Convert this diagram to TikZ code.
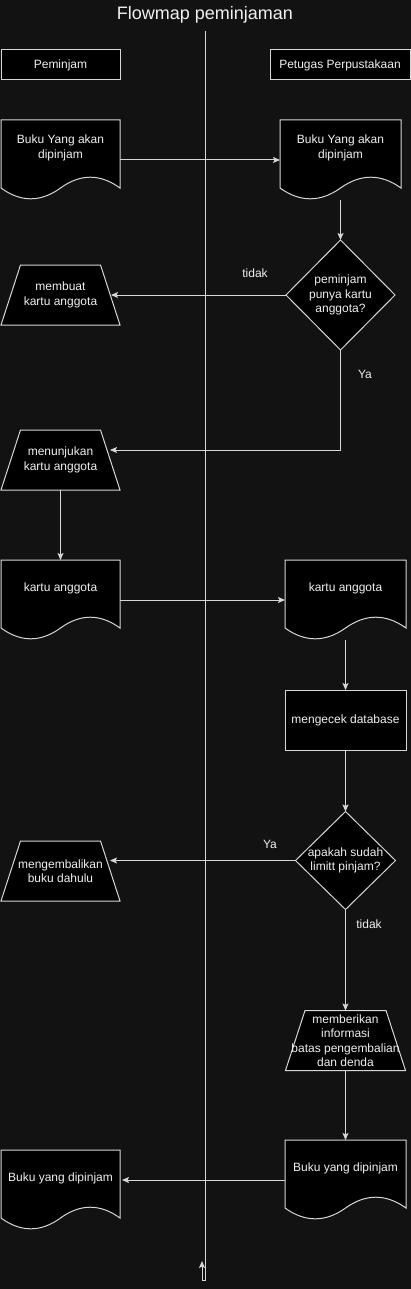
\documentclass[tikz,border=0pt]{standalone}
\usepackage{fontspec}
\setmainfont{Liberation Sans}
\usepackage{xcolor}
\usetikzlibrary{arrows.meta,positioning,shapes.geometric,calc}

\definecolor{latar}{RGB}{18,18,18}
\definecolor{garis}{RGB}{215,215,215}
\definecolor{tulisan}{RGB}{240,240,240}

\tikzset{
  teks/.style={text=tulisan, font=\fontsize{12}{14.4}\selectfont, align=center, inner sep=0pt},
  kotak/.style={teks, draw=garis, fill=black, line width=1pt, minimum height=30pt, outer sep=0pt},
  dok/.style={minimum height=80pt, inner sep=0pt, outer sep=0pt},
  trap/.style={minimum height=60pt, inner sep=0pt, outer sep=0pt},
  belah/.style={diamond, draw=garis, fill=black, line width=1pt, inner sep=0pt, outer sep=0pt},
  panah/.style={draw=garis, line width=1pt, -{Stealth[length=7pt,width=6pt,inset=1.5pt]}},
}

% dokumen: nama, posisi, lebar, teks
\newcommand{\dokumen}[4]{%
  \node[dok, minimum width=#3] (#1) at #2 {};
  \draw[draw=garis, fill=black, line width=1pt] (#1.north west) -- (#1.north east)
    -- ($(#1.south east)+(0,12)$)
    .. controls ($(#1.south west)!0.8333!(#1.south east)+(0,26.4)$)
    and ($(#1.south west)!0.6667!(#1.south east)+(0,26.4)$)
    .. ($(#1.south west)!0.5!(#1.south east)+(0,12)$)
    .. controls ($(#1.south west)!0.3333!(#1.south east)+(0,-2.4)$)
    and ($(#1.south west)!0.1667!(#1.south east)+(0,-2.4)$)
    .. ($(#1.south west)+(0,12)$) -- cycle;
  \node[teks] (#1-teks) at ([yshift=12pt]#1.center) {#4};
}

% trapesium: nama, posisi, lebar, teks
\newcommand{\trapesium}[4]{%
  \node[trap, minimum width=#3] (#1) at #2 {};
  \draw[draw=garis, fill=black, line width=1pt] (#1.south west)
    -- ($(#1.north west)+(19.5,0)$) -- ($(#1.north east)+(-19.5,0)$)
    -- (#1.south east) -- cycle;
  \node[teks] (#1-teks) at (#1.center) {#4};
}

\begin{document}
\begin{tikzpicture}[x=1pt, y=1pt]
    % Latar belakang
    \fill[latar] (0,0) rectangle (411,-1289);
    \useasboundingbox (0,0) rectangle (411,-1289);

    % Judul
    \node[teks, font=\fontsize{18}{21}\selectfont] (judul) at (205,-15) {Flowmap peminjaman};

    % Garis pemisah
    \coordinate (pisahAtas) at (205,-31);
    \coordinate (pisahBawah) at (205,-1280);
    \coordinate (pisahBelok) at (202,-1280);
    \coordinate (pisahUjung) at (202,-1261);
    \draw[panah] (pisahAtas) -- (pisahBawah) -- (pisahBelok) -- (pisahUjung);

    % Kepala kolom
    \node[kotak, minimum width=119pt] (peminjam) at (60.5,-65) {Peminjam};
    \node[kotak, minimum width=140pt] (petugas) at (340,-65) {Petugas Perpustakaan};

    % Buku yang akan dipinjam
    \dokumen{bukuA}{(60.5,-160)}{119pt}{Buku Yang akan\\dipinjam}
    \dokumen{bukuB}{(340.5,-160)}{121pt}{Buku Yang akan\\dipinjam}

    % Cek kartu anggota
    \node[belah, minimum width=109pt, minimum height=110pt] (cekKartu) at (340.5,-295) {};
    \node[teks] (cekKartu-teks) at (cekKartu.center) {peminjam\\punya kartu\\anggota?};
    \trapesium{buatKartu}{(60.5,-295)}{119pt}{membuat\\kartu anggota}
    \trapesium{tunjukKartu}{(60.5,-460)}{119pt}{menunjukan\\kartu anggota}

    % Kartu anggota
    \dokumen{kartuA}{(60.5,-600)}{119pt}{kartu anggota}
    \dokumen{kartuB}{(345.5,-600)}{121pt}{kartu anggota}
    \node[kotak, minimum width=121pt, minimum height=60pt] (cekDb) at (345.5,-720) {mengecek database};

    % Cek limit pinjam
    \node[belah, minimum width=100pt, minimum height=98pt] (limit) at (345.5,-860.5) {};
    \node[teks] (limit-teks) at (limit.center) {apakah sudah\\limitt pinjam?};
    \trapesium{kembali}{(60.5,-871)}{119pt}{mengembalikan\\buku dahulu}
    \trapesium{info}{(345.5,-1040.5)}{120pt}{memberikan\\informasi\\batas pengembalian\\dan denda}

    % Buku yang dipinjam
    \dokumen{bukuC}{(345.5,-1180)}{121pt}{Buku yang dipinjam}
    \dokumen{bukuD}{(60.5,-1190)}{119pt}{Buku yang dipinjam}

    % Panah
    \draw[panah] (bukuA.east) -- (bukuB.west);
    \draw[panah] (bukuB.south) -- (cekKartu.north);
    \draw[panah] (cekKartu.west) -- ([xshift=-9pt]buatKartu.east);
    \draw[panah] (cekKartu.south) |- ([xshift=-10pt, yshift=10pt]tunjukKartu.east);
    \draw[panah] (tunjukKartu.south) -- (kartuA.north);
    \draw[panah] (kartuA.east) -- (kartuB.west);
    \draw[panah] (kartuB.south) -- (cekDb.north);
    \draw[panah] (cekDb.south) -- (limit.north);
    \draw[panah] (limit.west) -- ([xshift=-10pt]limit.west -| kembali.east);
    \draw[panah] (limit.south) -- (info.north);
    \draw[panah] (info.south) -- (bukuC.north);
    \draw[panah] (bukuC.west) -- ([xshift=2pt]bukuC.west -| bukuD.east);

    % Label
    \node[teks] (tidak1) at (255,-273) {tidak};
    \node[teks] (ya1) at (365,-374) {Ya};
    \node[teks] (ya2) at (270,-844) {Ya};
    \node[teks] (tidak2) at (369,-924) {tidak};
\end{tikzpicture}
\end{document}
